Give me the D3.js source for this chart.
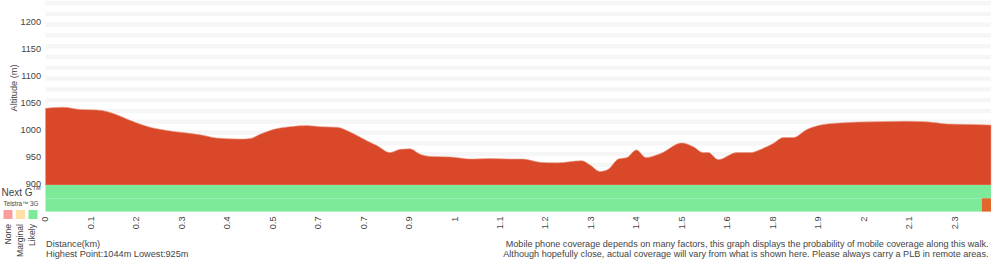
<!DOCTYPE html>
<html>
<head>
<meta charset="utf-8">
<script src="https://cdn.jsdelivr.net/npm/d3@7"></script>
<style>
  body { margin: 0; background: #fff; }
  svg { display: block; font-family: "Liberation Sans", Arial, sans-serif; }
  text { fill: #444; }
</style>
</head>
<body>
<svg id="chart" width="1000" height="260"></svg>
<script>
// profile samples: position in tick steps, altitude in metres
var profileStep = [0, 0.39, 0.76, 1.13, 1.35, 1.57, 1.79, 2.01, 2.30, 2.67, 3.03, 3.40, 3.77, 4.28, 4.50, 4.72,
  5.01, 5.38, 5.75, 6.04, 6.41, 6.70, 7.07, 7.29, 7.58, 7.80, 8.02, 8.24, 8.46, 8.90, 9.41, 9.78,
  10.22, 10.51, 10.88, 11.25, 11.80, 11.98, 12.20, 12.38, 12.60, 12.79, 13.00, 13.21, 13.52, 14.00,
  14.25, 14.47, 14.58, 14.80, 15.21, 15.50, 15.79, 16.01, 16.23, 16.45, 16.75, 17.11, 17.48, 18.21,
  18.95, 19.39, 19.83, 20.41, 20.80];
var profileAlt = [1042, 1044, 1040, 1039, 1036, 1030, 1022, 1015, 1007, 1001, 997, 993, 987, 985, 986, 994,
  1003, 1008, 1010, 1008, 1007, 998, 982, 973, 960, 966, 967, 957, 953, 952, 948, 949,
  948, 948, 942, 941, 945, 937, 925, 929, 948, 951, 965, 951, 958, 978,
  971, 960, 960, 947, 960, 960, 968, 977, 988, 988, 1003, 1012, 1015, 1017,
  1018, 1017, 1013, 1012, 1011];

var tickLabels = ["0", "0.1", "0.2", "0.3", "0.4", "0.5", "0.7", "0.7", "0.9", "1", "1.1", "1.2", "1.3",
  "1.4", "1.5", "1.6", "1.8", "1.9", "2", "2.1", "2.3"];
var altTicks = [900, 950, 1000, 1050, 1100, 1150, 1200];

// coverage rows: [start step, end step, level]
var nextG = [[0, 20.8, "Likely"]];
var telstra3G = [[0, 20.6, "Likely"], [20.6, 20.8, "End"]];
var levels = ["None", "Marginal", "Likely"];
var levelColor = { None: "#ff9d9d", Marginal: "#ffe0a6", Likely: "#7dea99", End: "#e0662c" };

var svg = d3.select("#chart");

var x = d3.scaleLinear().domain([0, 20.8]).range([45.5, 991]);
var y = d3.scaleLinear().domain([900, 1242.6]).range([185, 0]);

// striped background
var stripes = d3.range(1237, 900, -20);
svg.append("g").selectAll("rect")
  .data(stripes)
  .enter()
  .append("rect")
  .attr("x", x(0))
  .attr("width", x(20.8) - x(0))
  .attr("y", function (d) { return y(d + 4); })
  .attr("height", y(1233) - y(1241))
  .attr("fill", "#f6f6f6");

// altitude profile
var pts = profileStep.map(function (s, i) { return [s, profileAlt[i]]; });
var area = d3.area()
  .x(function (d) { return x(d[0]); })
  .y0(y(900))
  .y1(function (d) { return y(d[1]); })
  .curve(d3.curveMonotoneX);

svg.append("path")
  .datum(pts)
  .attr("d", area)
  .attr("fill", "#d94828")
  .attr("stroke", "#e99a86")
  .attr("stroke-width", 0.6);

// coverage bands
var bandTop = y(900), rowH = 13.3;
[nextG, telstra3G].forEach(function (row, r) {
  svg.append("g").selectAll("rect")
    .data(row)
    .enter()
    .append("rect")
    .attr("x", function (d) { return x(d[0]); })
    .attr("width", function (d) { return x(d[1]) - x(d[0]); })
    .attr("y", bandTop + r * rowH)
    .attr("height", rowH)
    .attr("fill", function (d) { return levelColor[d[2]]; });
});

// y axis labels
svg.append("g").selectAll("text")
  .data(altTicks)
  .enter()
  .append("text")
  .attr("x", 41)
  .attr("y", function (d) { return y(d); })
  .attr("text-anchor", "end")
  .attr("dominant-baseline", "middle")
  .attr("font-size", 9.2)
  .text(function (d) { return d; });

svg.append("text")
  .attr("transform", "translate(16.5,88) rotate(-90)")
  .attr("text-anchor", "middle")
  .attr("font-size", 9.2)
  .text("Altitude (m)");

// x tick labels
svg.append("g").selectAll("text")
  .data(tickLabels)
  .enter()
  .append("text")
  .attr("transform", function (d, i) { return "translate(" + (x(i) + 0.5) + ",216.5) rotate(-90)"; })
  .attr("text-anchor", "end")
  .attr("dominant-baseline", "middle")
  .attr("font-size", 9.2)
  .text(function (d) { return d; });

// legend
var ng = svg.append("text").attr("x", 1.5).attr("y", 196).attr("font-size", 10);
ng.append("tspan").text("Next G");
ng.append("tspan").attr("font-size", 5.5).attr("dy", -6).text("TM");
svg.append("text").attr("x", 3.5).attr("y", 206).attr("font-size", 6.3).text("Telstra\u2122 3G");

svg.append("g").selectAll("rect")
  .data(levels)
  .enter()
  .append("rect")
  .attr("x", function (d, i) { return 3.5 + i * 12.5; })
  .attr("y", 210)
  .attr("width", 9)
  .attr("height", 9)
  .attr("fill", function (d) { return levelColor[d]; });

svg.append("g").selectAll("text")
  .data(levels)
  .enter()
  .append("text")
  .attr("transform", function (d, i) { return "translate(" + (8.5 + i * 12) + ",224) rotate(-90)"; })
  .attr("text-anchor", "end")
  .attr("dominant-baseline", "middle")
  .attr("font-size", 8.6)
  .text(function (d) { return d; });

// footer texts
svg.append("text").attr("x", 46).attr("y", 247).attr("font-size", 9.2).text("Distance(km)");
svg.append("text").attr("x", 46).attr("y", 256.5).attr("font-size", 9.2)
  .text("Highest Point:" + d3.max(profileAlt) + "m Lowest:" + d3.min(profileAlt) + "m");

svg.append("text").attr("x", 988.5).attr("y", 246.5).attr("font-size", 9.1).attr("text-anchor", "end")
  .text("Mobile phone coverage depends on many factors, this graph displays the probability of mobile coverage along this walk.");
svg.append("text").attr("x", 988.5).attr("y", 256.5).attr("font-size", 9.1).attr("text-anchor", "end")
  .text("Although hopefully close, actual coverage will vary from what is shown here. Please always carry a PLB in remote areas.");
</script>
</body>
</html>
